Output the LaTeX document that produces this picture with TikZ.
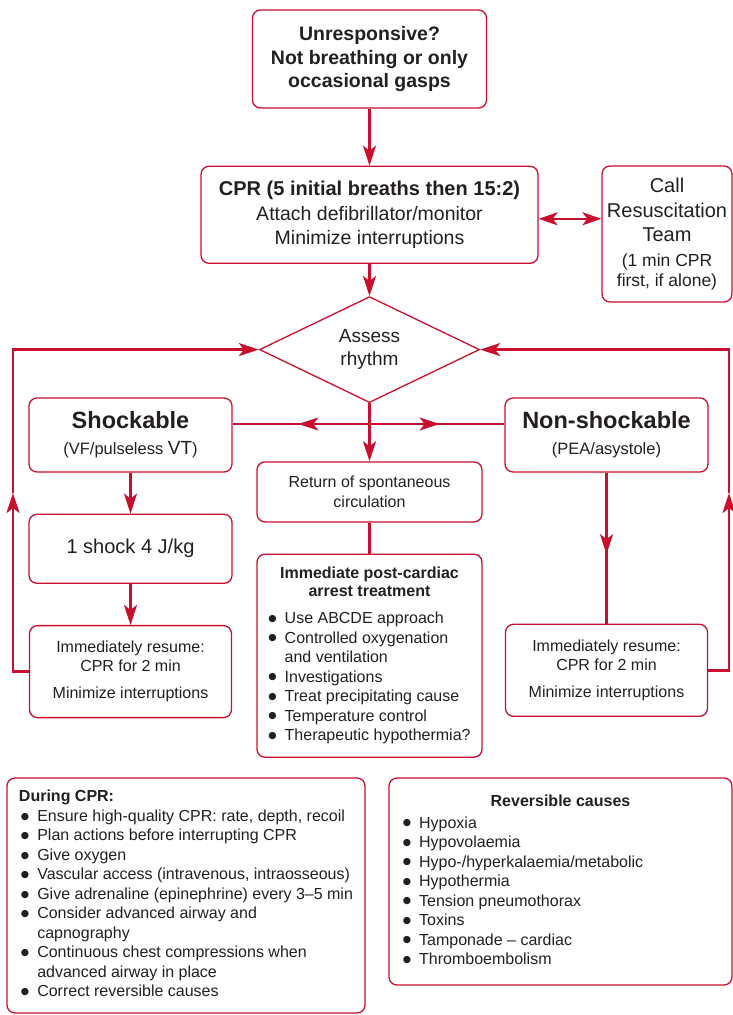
\documentclass[tikz,border=0pt]{standalone}
\usepackage{fontspec}
\setmainfont{Liberation Sans}
\newfontfamily\symfont{DejaVu Sans}
\usepackage{tikz}
\usetikzlibrary{positioning, arrows.meta, shapes.geometric, decorations.markings}
\definecolor{cprred}{RGB}{200,16,46}
\definecolor{ink}{RGB}{35,31,32}
\newcommand{\blt}{\raisebox{2.2pt}{\symfont\fontsize{9.5}{12}\selectfont ●}}

\begin{document}
\begin{tikzpicture}[
    x=1pt, y=-1pt,
    >={Stealth[length=20pt, width=13pt, inset=5pt]},
    box/.style={draw=cprred, line width=1.3pt, rounded corners=8pt, align=center, inner sep=0pt, text=ink, font=\fontsize{16}{19.5}\selectfont},
    flow/.style={cprred, line width=2.6pt},
    midarrow/.style={postaction={decorate}, decoration={markings, mark=at position #1 with {\arrow{>}}}},
    ]
    \useasboundingbox (0,0) rectangle (733,1015);

    % Start
    \node[box, minimum width=234pt, minimum height=98pt, font=\fontsize{19.5}{23.5}\selectfont\bfseries] (unresp) at (369.5,59) {Unresponsive?\\Not breathing or only\\occasional gasps};
    % CPR
    \node[box, below=57pt of unresp, minimum width=337pt, minimum height=97pt, font=\fontsize{19.5}{24.5}\selectfont] (cpr) {{\fontsize{20}{24.5}\selectfont\bfseries CPR (5 initial breaths then 15:2)}\\Attach defibrillator/monitor\\Minimize interruptions};
    % Team
    \node[box, minimum width=130pt, minimum height=136pt, font=\fontsize{20}{24.5}\selectfont] (call) at (667,234) {Call\\Resuscitation\\Team\\{\fontsize{17.5}{20}\selectfont(1 min CPR}\\[-4.5pt]{\fontsize{17.5}{20}\selectfont first, if alone)}};
    % Rhythm check
    \node[box, diamond, sharp corners, below=32pt of cpr, minimum width=220pt, minimum height=106pt, font=\fontsize{19}{23}\selectfont] (assess) {Assess\\rhythm};

    % Branches
    \node[box, minimum width=203pt, minimum height=74pt, font=\fontsize{16.5}{26}\selectfont] (shock) at (130.5,435) {{\fontsize{23.5}{28}\selectfont\bfseries Shockable}\\(VF/pulseless {\fontsize{19}{26}\selectfont VT})};
    \node[box, minimum width=203pt, minimum height=74pt, font=\fontsize{16.5}{26}\selectfont] (nonshock) at (606.5,435) {{\fontsize{23.5}{28}\selectfont\bfseries Non-shockable}\\(PEA/asystole)};
    % ROSC
    \node[box, below=58pt of assess, minimum width=225pt, minimum height=60pt] (rosc) {Return of spontaneous\\circulation};
    \node[box, below=31pt of rosc, minimum width=225pt, minimum height=203pt] (post) {\begin{tabular}{@{}l@{\hspace{8pt}}l@{}}
        \multicolumn{2}{@{}c@{}}{\bfseries Immediate post-cardiac}\\[-1.5pt]
        \multicolumn{2}{@{}c@{}}{\bfseries arrest treatment}\\[7.5pt]
        \blt & Use ABCDE approach\\
        \blt & Controlled oxygenation\\
             & and ventilation\\
        \blt & Investigations\\
        \blt & Treat precipitating cause\\
        \blt & Temperature control\\
        \blt & Therapeutic hypothermia?
    \end{tabular}};
    % Shockable side
    \node[box, below=41pt of shock, minimum width=203pt, minimum height=69pt, font=\fontsize{20}{24}\selectfont] (oneshock) {1 shock 4 J/kg};
    \node[box, below=41pt of oneshock, minimum width=202pt, minimum height=92pt, font=\fontsize{16}{19}\selectfont] (resumeL) {Immediately resume:\\CPR for 2 min\\[8pt]Minimize interruptions};
    % Non-shockable side
    \node[box, below=151pt of nonshock, minimum width=202pt, minimum height=92pt, font=\fontsize{16}{19}\selectfont] (resumeR) {Immediately resume:\\CPR for 2 min\\[8pt]Minimize interruptions};

    % Lists
    \node[box, minimum width=358pt, minimum height=235pt] (during) at (186,895.5) {\begin{tabular}{@{}l@{\hspace{8pt}}l@{}}
        \multicolumn{2}{@{}l@{}}{\bfseries During CPR:}\\
        \hspace*{2pt}\blt & Ensure high-quality CPR: rate, depth, recoil\\
        \hspace*{2pt}\blt & Plan actions before interrupting CPR\\
        \hspace*{2pt}\blt & Give oxygen\\
        \hspace*{2pt}\blt & Vascular access (intravenous, intraosseous)\\
        \hspace*{2pt}\blt & Give adrenaline (epinephrine) every 3--5 min\\
        \hspace*{2pt}\blt & Consider advanced airway and\\
                          & capnography\\
        \hspace*{2pt}\blt & Continuous chest compressions when\\
                          & advanced airway in place\\
        \hspace*{2pt}\blt & Correct reversible causes
    \end{tabular}};
    \node[box, minimum width=343pt, minimum height=207pt] (causes) at (560.5,881.5) {\begin{tabular}{@{}l@{\hspace{8pt}}p{299pt}@{}}
        \multicolumn{2}{@{}c@{}}{\bfseries Reversible causes}\\[2.5pt]
        \blt & Hypoxia\\
        \blt & Hypovolaemia\\
        \blt & Hypo-/hyperkalaemia/metabolic\\
        \blt & Hypothermia\\
        \blt & Tension pneumothorax\\
        \blt & Toxins\\
        \blt & Tamponade -- cardiac\\
        \blt & Thromboembolism
    \end{tabular}};

    % Main flow edges
    \draw[flow, ->] (unresp) -- (cpr);
    \draw[flow, <->, >={Stealth[length=19pt, width=13pt, inset=5pt]}] ([yshift=-4pt]cpr.east) -- ([yshift=-4pt]cpr.east -| call.west);
    \draw[flow, ->] (cpr) -- (assess);
    \draw[flow, ->] (assess) -- (rosc);
    \draw[flow] (rosc) -- (post);

    % Split to both rhythms
    \coordinate (split) at (assess.south |- 0,424);
    \draw[flow, midarrow=0.52] (split) -- (split -| shock.east);
    \draw[flow, midarrow=0.52] (split) -- (split -| nonshock.west);

    % Shockable / non-shockable edges
    \draw[flow, ->] (shock) -- (oneshock);
    \draw[flow, ->] (oneshock) -- (resumeL);
    \draw[flow, midarrow=0.54] (nonshock) -- (resumeR);

    % Back to rhythm check
    \coordinate (backL) at (13,493);
    \coordinate (backR) at (729,493);
    \draw[flow, ->] (resumeL) -| (backL);
    \draw[flow, ->] (backL) |- (assess);
    \draw[flow, ->] (resumeR) -| (backR);
    \draw[flow, ->] (backR) |- (assess);
\end{tikzpicture}
\end{document}
